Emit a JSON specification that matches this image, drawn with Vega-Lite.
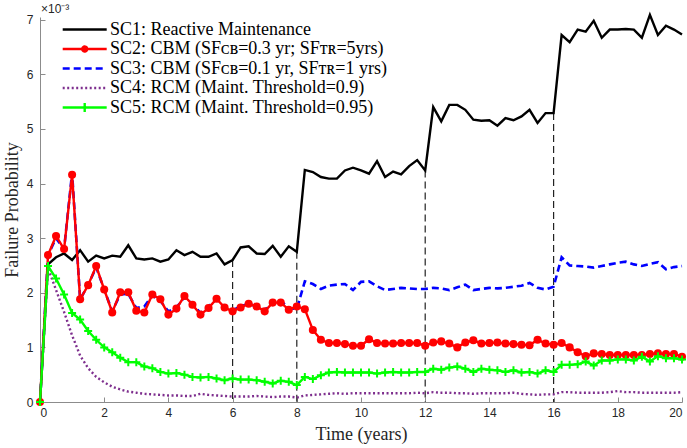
{
  "$schema": "https://vega.github.io/schema/vega-lite/v6.json",
  "width": 642,
  "height": 385,
  "autosize": {"type": "none"},
  "padding": {"left": 40, "top": 17, "right": 5, "bottom": 46},
  "background": "white",
  "config": {
    "view": {"stroke": null},
    "axis": {"grid": false, "domainColor": "#8c8c8c", "tickColor": "#8c8c8c", "domainWidth": 1, "tickWidth": 1, "labelFont": "Liberation Sans", "labelFontSize": 12, "labelColor": "#262626", "titleFont": "Liberation Serif", "titleFontWeight": "normal", "titleColor": "#262626"}
  },
  "datasets": {
    "series": [
      {"t": 0, "SC1": 0, "SC2": 0, "SC3": 0, "SC4": 0, "SC5": 0},
      {"t": 0.25, "SC1": 2.52, "SC2": 2.69, "SC3": 2.69, "SC4": 2.45, "SC5": 2.49},
      {"t": 0.5, "SC1": 2.65, "SC2": 3.04, "SC3": 3.0, "SC4": 2.05, "SC5": 2.26},
      {"t": 0.75, "SC1": 2.72, "SC2": 2.8, "SC3": 2.8, "SC4": 1.65, "SC5": 1.97},
      {"t": 1, "SC1": 2.6, "SC2": 4.16, "SC3": 4.2, "SC4": 1.22, "SC5": 1.63},
      {"t": 1.25, "SC1": 2.78, "SC2": 1.88, "SC3": 1.88, "SC4": 0.85, "SC5": 1.51},
      {"t": 1.5, "SC1": 2.57, "SC2": 2.14, "SC3": 2.14, "SC4": 0.62, "SC5": 1.3},
      {"t": 1.75, "SC1": 2.68, "SC2": 2.49, "SC3": 2.47, "SC4": 0.46, "SC5": 1.14},
      {"t": 2, "SC1": 2.63, "SC2": 2.06, "SC3": 2.06, "SC4": 0.36, "SC5": 1.0},
      {"t": 2.25, "SC1": 2.68, "SC2": 1.64, "SC3": 1.66, "SC4": 0.28, "SC5": 0.91},
      {"t": 2.5, "SC1": 2.66, "SC2": 2.01, "SC3": 1.97, "SC4": 0.23, "SC5": 0.81},
      {"t": 2.75, "SC1": 2.87, "SC2": 2.01, "SC3": 1.98, "SC4": 0.19, "SC5": 0.73},
      {"t": 3, "SC1": 2.63, "SC2": 1.67, "SC3": 1.72, "SC4": 0.17, "SC5": 0.73},
      {"t": 3.25, "SC1": 2.61, "SC2": 1.64, "SC3": 1.75, "SC4": 0.15, "SC5": 0.65},
      {"t": 3.5, "SC1": 2.63, "SC2": 1.97, "SC3": 1.95, "SC4": 0.14, "SC5": 0.62},
      {"t": 3.75, "SC1": 2.57, "SC2": 1.88, "SC3": 1.85, "SC4": 0.13, "SC5": 0.55},
      {"t": 4, "SC1": 2.61, "SC2": 1.6, "SC3": 1.66, "SC4": 0.12, "SC5": 0.52},
      {"t": 4.25, "SC1": 2.78, "SC2": 1.71, "SC3": 1.73, "SC4": 0.12, "SC5": 0.53},
      {"t": 4.5, "SC1": 2.69, "SC2": 1.94, "SC3": 1.92, "SC4": 0.11, "SC5": 0.5},
      {"t": 4.75, "SC1": 2.75, "SC2": 1.78, "SC3": 1.8, "SC4": 0.11, "SC5": 0.46},
      {"t": 5, "SC1": 2.66, "SC2": 1.6, "SC3": 1.63, "SC4": 0.15, "SC5": 0.45},
      {"t": 5.25, "SC1": 2.66, "SC2": 1.72, "SC3": 1.75, "SC4": 0.13, "SC5": 0.46},
      {"t": 5.5, "SC1": 2.72, "SC2": 1.89, "SC3": 1.88, "SC4": 0.12, "SC5": 0.43},
      {"t": 5.75, "SC1": 2.52, "SC2": 1.73, "SC3": 1.73, "SC4": 0.11, "SC5": 0.4},
      {"t": 6, "SC1": 2.6, "SC2": 1.66, "SC3": 1.68, "SC4": 0.1, "SC5": 0.43},
      {"t": 6.25, "SC1": 2.83, "SC2": 1.73, "SC3": 1.75, "SC4": 0.1, "SC5": 0.41},
      {"t": 6.5, "SC1": 2.85, "SC2": 1.8, "SC3": 1.8, "SC4": 0.1, "SC5": 0.41},
      {"t": 6.75, "SC1": 2.72, "SC2": 1.75, "SC3": 1.75, "SC4": 0.11, "SC5": 0.4},
      {"t": 7, "SC1": 2.71, "SC2": 1.66, "SC3": 1.68, "SC4": 0.1, "SC5": 0.37},
      {"t": 7.25, "SC1": 2.86, "SC2": 1.82, "SC3": 1.85, "SC4": 0.09, "SC5": 0.34},
      {"t": 7.5, "SC1": 2.66, "SC2": 1.82, "SC3": 1.85, "SC4": 0.1, "SC5": 0.39},
      {"t": 7.75, "SC1": 2.85, "SC2": 1.69, "SC3": 1.72, "SC4": 0.1, "SC5": 0.37},
      {"t": 8, "SC1": 2.75, "SC2": 1.75, "SC3": 1.7, "SC4": 0.08, "SC5": 0.31},
      {"t": 8.25, "SC1": 4.25, "SC2": 1.7, "SC3": 2.21, "SC4": 0.12, "SC5": 0.46},
      {"t": 8.5, "SC1": 4.21, "SC2": 1.32, "SC3": 2.16, "SC4": 0.13, "SC5": 0.42},
      {"t": 8.75, "SC1": 4.12, "SC2": 1.14, "SC3": 2.07, "SC4": 0.14, "SC5": 0.49},
      {"t": 9, "SC1": 4.09, "SC2": 1.08, "SC3": 2.13, "SC4": 0.15, "SC5": 0.54},
      {"t": 9.25, "SC1": 4.09, "SC2": 1.08, "SC3": 2.15, "SC4": 0.16, "SC5": 0.55},
      {"t": 9.5, "SC1": 4.24, "SC2": 1.06, "SC3": 2.16, "SC4": 0.15, "SC5": 0.54},
      {"t": 9.75, "SC1": 4.29, "SC2": 1.03, "SC3": 2.05, "SC4": 0.16, "SC5": 0.54},
      {"t": 10, "SC1": 4.24, "SC2": 1.03, "SC3": 2.2, "SC4": 0.16, "SC5": 0.54},
      {"t": 10.25, "SC1": 4.18, "SC2": 1.15, "SC3": 2.21, "SC4": 0.16, "SC5": 0.54},
      {"t": 10.5, "SC1": 4.41, "SC2": 1.08, "SC3": 2.12, "SC4": 0.16, "SC5": 0.52},
      {"t": 10.75, "SC1": 4.12, "SC2": 1.07, "SC3": 2.05, "SC4": 0.16, "SC5": 0.54},
      {"t": 11, "SC1": 4.22, "SC2": 1.07, "SC3": 2.07, "SC4": 0.16, "SC5": 0.55},
      {"t": 11.25, "SC1": 4.17, "SC2": 1.08, "SC3": 2.09, "SC4": 0.16, "SC5": 0.54},
      {"t": 11.5, "SC1": 4.32, "SC2": 1.08, "SC3": 2.08, "SC4": 0.16, "SC5": 0.54},
      {"t": 11.75, "SC1": 4.43, "SC2": 1.08, "SC3": 2.07, "SC4": 0.17, "SC5": 0.55},
      {"t": 12, "SC1": 4.24, "SC2": 1.03, "SC3": 2.07, "SC4": 0.16, "SC5": 0.55},
      {"t": 12.25, "SC1": 5.4, "SC2": 1.09, "SC3": 2.09, "SC4": 0.18, "SC5": 0.61},
      {"t": 12.5, "SC1": 5.14, "SC2": 1.11, "SC3": 2.08, "SC4": 0.17, "SC5": 0.59},
      {"t": 12.75, "SC1": 5.44, "SC2": 1.07, "SC3": 2.05, "SC4": 0.17, "SC5": 0.63},
      {"t": 13, "SC1": 5.44, "SC2": 1.0, "SC3": 2.1, "SC4": 0.16, "SC5": 0.65},
      {"t": 13.25, "SC1": 5.35, "SC2": 1.09, "SC3": 2.15, "SC4": 0.16, "SC5": 0.61},
      {"t": 13.5, "SC1": 5.17, "SC2": 1.13, "SC3": 2.05, "SC4": 0.15, "SC5": 0.55},
      {"t": 13.75, "SC1": 5.15, "SC2": 1.07, "SC3": 2.07, "SC4": 0.16, "SC5": 0.61},
      {"t": 14, "SC1": 5.16, "SC2": 1.08, "SC3": 2.09, "SC4": 0.16, "SC5": 0.59},
      {"t": 14.25, "SC1": 5.06, "SC2": 1.09, "SC3": 2.08, "SC4": 0.16, "SC5": 0.58},
      {"t": 14.5, "SC1": 5.2, "SC2": 1.07, "SC3": 2.09, "SC4": 0.16, "SC5": 0.55},
      {"t": 14.75, "SC1": 5.16, "SC2": 1.06, "SC3": 2.11, "SC4": 0.17, "SC5": 0.58},
      {"t": 15, "SC1": 5.23, "SC2": 1.05, "SC3": 2.13, "SC4": 0.15, "SC5": 0.54},
      {"t": 15.25, "SC1": 5.35, "SC2": 1.04, "SC3": 2.18, "SC4": 0.14, "SC5": 0.55},
      {"t": 15.5, "SC1": 5.11, "SC2": 1.14, "SC3": 2.09, "SC4": 0.13, "SC5": 0.52},
      {"t": 15.75, "SC1": 5.29, "SC2": 1.07, "SC3": 2.06, "SC4": 0.14, "SC5": 0.58},
      {"t": 16, "SC1": 5.29, "SC2": 1.05, "SC3": 2.11, "SC4": 0.14, "SC5": 0.55},
      {"t": 16.25, "SC1": 6.72, "SC2": 1.08, "SC3": 2.65, "SC4": 0.18, "SC5": 0.68},
      {"t": 16.5, "SC1": 6.59, "SC2": 1.0, "SC3": 2.5, "SC4": 0.18, "SC5": 0.68},
      {"t": 16.75, "SC1": 6.82, "SC2": 0.91, "SC3": 2.49, "SC4": 0.17, "SC5": 0.69},
      {"t": 17, "SC1": 6.78, "SC2": 0.84, "SC3": 2.48, "SC4": 0.17, "SC5": 0.74},
      {"t": 17.25, "SC1": 6.98, "SC2": 0.89, "SC3": 2.46, "SC4": 0.17, "SC5": 0.67},
      {"t": 17.5, "SC1": 6.67, "SC2": 0.88, "SC3": 2.49, "SC4": 0.17, "SC5": 0.76},
      {"t": 17.75, "SC1": 6.82, "SC2": 0.86, "SC3": 2.52, "SC4": 0.18, "SC5": 0.76},
      {"t": 18, "SC1": 6.82, "SC2": 0.86, "SC3": 2.55, "SC4": 0.2, "SC5": 0.78},
      {"t": 18.25, "SC1": 6.83, "SC2": 0.86, "SC3": 2.57, "SC4": 0.18, "SC5": 0.78},
      {"t": 18.5, "SC1": 6.82, "SC2": 0.86, "SC3": 2.52, "SC4": 0.18, "SC5": 0.76},
      {"t": 18.75, "SC1": 6.67, "SC2": 0.86, "SC3": 2.49, "SC4": 0.17, "SC5": 0.83},
      {"t": 19, "SC1": 7.09, "SC2": 0.88, "SC3": 2.53, "SC4": 0.17, "SC5": 0.74},
      {"t": 19.25, "SC1": 6.72, "SC2": 0.89, "SC3": 2.56, "SC4": 0.17, "SC5": 0.84},
      {"t": 19.5, "SC1": 6.89, "SC2": 0.88, "SC3": 2.43, "SC4": 0.17, "SC5": 0.8},
      {"t": 19.75, "SC1": 6.82, "SC2": 0.88, "SC3": 2.47, "SC4": 0.17, "SC5": 0.8},
      {"t": 20, "SC1": 6.73, "SC2": 0.83, "SC3": 2.49, "SC4": 0.18, "SC5": 0.78}
    ],
    "markers": [
      {"t": 6, "top": 2.6},
      {"t": 8, "top": 2.75},
      {"t": 12, "top": 4.24},
      {"t": 16, "top": 5.29}
    ],
    "exponent": [
      {"t": 0.03, "v": 7.12, "label": "×10⁻³"}
    ]
  },
  "layer": [
    {
      "data": {"name": "markers"},
      "mark": {"type": "rule", "color": "#222222", "strokeWidth": 1.2, "strokeDash": [7, 4]},
      "encoding": {
        "x": {"field": "t", "type": "quantitative"},
        "y": {"field": "top", "type": "quantitative"},
        "y2": {"datum": 0}
      }
    },
    {
      "data": {"name": "series"},
      "transform": [
        {"fold": ["SC1", "SC3", "SC4", "SC2", "SC5"], "as": ["s", "v"]}
      ],
      "layer": [
        {
          "transform": [{"filter": {"field": "s", "equal": "SC1"}}],
          "mark": {"type": "line", "strokeWidth": 2.4, "color": "#000000"},
          "encoding": {}
        },
        {
          "transform": [{"filter": {"field": "s", "equal": "SC3"}}],
          "mark": {"type": "line", "strokeWidth": 2.6, "color": "#0000ff", "strokeDash": [7, 4]},
          "encoding": {}
        },
        {
          "transform": [{"filter": {"field": "s", "equal": "SC4"}}],
          "mark": {"type": "line", "strokeWidth": 2.4, "color": "#7e2f8e", "strokeDash": [2, 2.5]},
          "encoding": {}
        },
        {
          "transform": [{"filter": {"field": "s", "equal": "SC2"}}],
          "mark": {"type": "line", "strokeWidth": 2.4, "color": "#ff0000"},
          "encoding": {}
        },
        {
          "transform": [{"filter": {"field": "s", "equal": "SC2"}}],
          "mark": {"type": "point", "shape": "circle", "filled": true, "size": 65, "opacity": 1, "color": "#ff0000"},
          "encoding": {}
        },
        {
          "transform": [{"filter": {"field": "s", "equal": "SC5"}}],
          "mark": {"type": "line", "strokeWidth": 2.4, "color": "#00ff00"},
          "encoding": {}
        },
        {
          "transform": [{"filter": {"field": "s", "equal": "SC5"}}],
          "mark": {"type": "point", "shape": "M-1,0H1M0,-1V1", "filled": false, "size": 64, "strokeWidth": 2, "opacity": 1, "color": "#00ff00"},
          "encoding": {}
        },
        {
          "transform": [{"filter": {"field": "t", "lt": -1}}],
          "mark": {"type": "point", "filled": false, "strokeWidth": 2.4, "opacity": 1},
          "encoding": {
            "color": {
              "field": "s", "type": "nominal",
              "scale": {"domain": ["SC1", "SC2", "SC3", "SC4", "SC5"], "range": ["#000000", "#ff0000", "#0000ff", "#7e2f8e", "#00ff00"]},
              "legend": {
                "title": null,
                "orient": "none",
                "legendX": 48,
                "legendY": 3,
                "padding": 0,
                "symbolSize": 256,
                "symbolStrokeWidth": 2.4,
                "symbolOpacity": 1,
                "labelFont": "Liberation Serif",
                "labelFontSize": 18,
                "labelColor": "#000000",
                "labelLimit": 500,
                "labelOffset": 3,
                "rowPadding": 0.5,
                "labelExpr": "{'SC1': 'SC1: Reactive Maintenance', 'SC2': 'SC2: CBM (SFᴄʙ=0.3 yr; SFᴛʀ=5yrs)', 'SC3': 'SC3: CBM (SFᴄʙ=0.1 yr, SFᴛʀ=1 yrs)', 'SC4': 'SC4: RCM (Maint. Threshold=0.9)', 'SC5': 'SC5: RCM (Maint. Threshold=0.95)'}[datum.value]"
              }
            },
            "shape": {
              "field": "s", "type": "nominal",
              "scale": {
                "domain": ["SC1", "SC2", "SC3", "SC4", "SC5"],
                "range": ["M-4.35,0H1.15", "M-4.35,0H1.15M-1.29,0A0.31,0.31,0,1,1,-1.91,0A0.31,0.31,0,1,1,-1.29,0ZM-1.52,0A0.08,0.08,0,1,1,-1.68,0A0.08,0.08,0,1,1,-1.52,0Z", "M-4.35,0H1.15", "M-4.35,0H1.15", "M-4.35,0H1.15M-1.6,-0.56V0.56"]
              }
            },
            "strokeDash": {
              "field": "s", "type": "nominal",
              "scale": {"domain": ["SC1", "SC2", "SC3", "SC4", "SC5"], "range": [[1, 0], [1, 0], [7, 4], [2, 2.5], [1, 0]]}
            }
          }
        }
      ]
    },
    {
      "data": {"name": "exponent"},
      "mark": {"type": "text", "align": "left", "baseline": "alphabetic", "font": "Liberation Sans", "fontSize": 12, "fill": "#262626"},
      "encoding": {
        "text": {"field": "label", "type": "nominal"}
      }
    }
  ],
  "encoding": {
    "x": {
      "field": "t", "type": "quantitative",
      "scale": {"domain": [0, 20], "nice": false},
      "axis": {"values": [0, 2, 4, 6, 8, 10, 12, 14, 16, 18, 20], "format": "d", "title": "Time (years)", "titleFontSize": 18, "titlePadding": 7, "tickSize": -5, "labelPadding": 10}
    },
    "y": {
      "field": "v", "type": "quantitative",
      "scale": {"domain": [0, 7.05], "nice": false},
      "axis": {"values": [0, 1, 2, 3, 4, 5, 6, 7], "format": "d", "title": "Failure Probability", "titleFontSize": 18, "titlePadding": 5, "tickSize": -5, "labelPadding": 12}
    }
  }
}
